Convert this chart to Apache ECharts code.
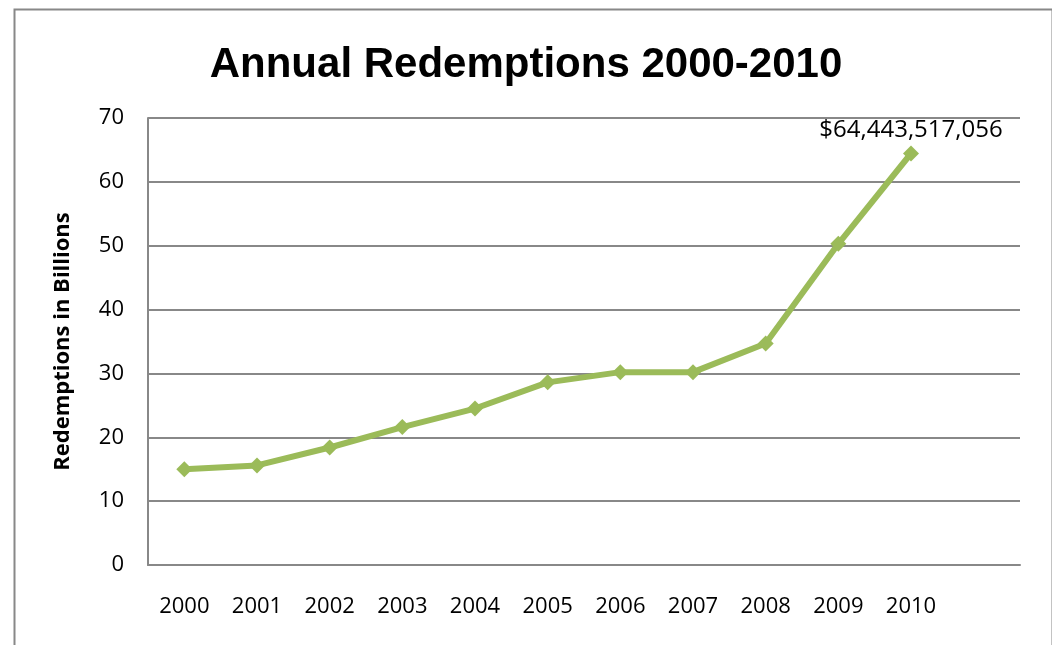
<!DOCTYPE html>
<html>
<head>
<meta charset="utf-8">
<script src="https://cdn.jsdelivr.net/npm/echarts@6/dist/echarts.min.js"></script>
<style>html,body{margin:0;padding:0;background:#fff;}#c{width:1052px;height:645px;}</style>
</head>
<body>
<div id="c"></div>
<script>
const titleText = 'Annual Redemptions 2000-2010';
const yAxisName = 'Redemptions in Billions';
const years = ['2000','2001','2002','2003','2004','2005','2006','2007','2008','2009','2010'];
const redemptions = [15.0, 15.6, 18.4, 21.6, 24.5, 28.6, 30.2, 30.2, 34.7, 50.3, 64.44];
const lastLabel = '$64,443,517,056';
const yTicks = [0, 10, 20, 30, 40, 50, 60, 70];

const font = "'Open Sans', 'Liberation Sans', sans-serif";
const chart = echarts.init(document.getElementById('c'), null, {renderer: 'canvas'});
const seriesData = redemptions.map((v, i) => i === redemptions.length - 1
  ? {value: v, label: {show: true, position: 'top', distance: 3, formatter: lastLabel, color: '#000', fontSize: 24, fontFamily: font}}
  : v);
chart.setOption({
  animation: false,
  backgroundColor: '#fff',
  graphic: [{
    type: 'rect', left: 12, top: 7, shape: {width: 1038, height: 700},
    style: {fill: 'none', stroke: '#888', lineWidth: 2}, silent: true
  }],
  title: {
    text: titleText, left: 'center', top: 39,
    textStyle: {fontFamily: "'Liberation Sans', Arial, sans-serif", fontWeight: 'bold', fontSize: 42, color: '#000'}
  },
  grid: {left: 148, right: 32, top: 118, bottom: 80},
  xAxis: {
    type: 'category',
    data: years.concat(['']),
    boundaryGap: true,
    axisLine: {show: true, lineStyle: {color: '#888', width: 2}},
    axisTick: {show: false},
    axisLabel: {color: '#000', fontSize: 22, fontFamily: font, margin: 31, interval: 0}
  },
  yAxis: {
    type: 'value', min: yTicks[0], max: yTicks[yTicks.length - 1], interval: 10,
    name: yAxisName, nameLocation: 'middle', nameGap: 74, nameRotate: 90,
    nameTextStyle: {fontFamily: font, fontWeight: 'bold', fontSize: 22, color: '#000'},
    axisLine: {show: true, lineStyle: {color: '#888', width: 2}},
    axisTick: {show: false},
    axisLabel: {color: '#000', fontSize: 22, fontFamily: font, margin: 24},
    splitLine: {show: true, lineStyle: {color: '#888', width: 2}}
  },
  series: [{
    type: 'line',
    data: seriesData,
    symbol: 'diamond', symbolSize: 16,
    lineStyle: {color: '#9BBB59', width: 6},
    itemStyle: {color: '#9BBB59'}
  }]
});
</script>
</body>
</html>
